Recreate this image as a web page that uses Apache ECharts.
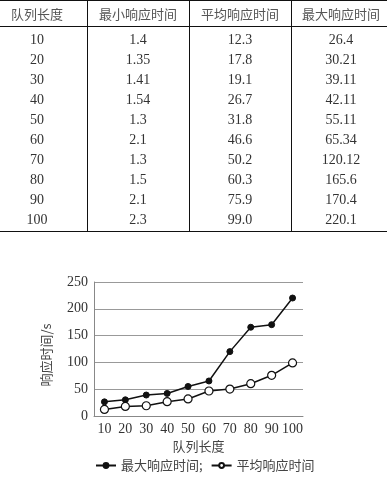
<!DOCTYPE html>
<html>
<head>
<meta charset="utf-8">
<script src="https://cdn.jsdelivr.net/npm/echarts@6/dist/echarts.min.js"></script>
<style>
html,body{margin:0;padding:0;background:#fff;}
#c{width:387px;height:483px;}
</style>
</head>
<body>
<div id="c"></div>
<script>
// ---- data ----
var headers = ['队列长度', '最小响应时间', '平均响应时间', '最大响应时间'];
var queueLen = ['10', '20', '30', '40', '50', '60', '70', '80', '90', '100'];
var minTime = ['1.4', '1.35', '1.41', '1.54', '1.3', '2.1', '1.3', '1.5', '2.1', '2.3'];
var avgTime = ['12.3', '17.8', '19.1', '26.7', '31.8', '46.6', '50.2', '60.3', '75.9', '99.0'];
var maxTime = ['26.4', '30.21', '39.11', '42.11', '55.11', '65.34', '120.12', '165.6', '170.4', '220.1'];
var yTicks = [0, 50, 100, 150, 200, 250];
var seriesNames = ['最大响应时间', '平均响应时间'];
var xName = '队列长度';
var yName = '响应时间/s';

// ---- table layout (styles/positions) ----
var colCenters = [37, 138, 240, 341];
var colLines = [87, 189, 291];
var headerY = 14, firstRowY = 40, rowStep = 20;
var topLine = 0.5, headLine = 26.5, bottomLine = 231.5;
var cnFont = '"Noto Sans CJK SC", sans-serif';
var numFont = '"Liberation Serif", "Times New Roman", serif';

var graphics = [];
function hline(y) {
  graphics.push({type: 'line', shape: {x1: 0, y1: y, x2: 387, y2: y}, style: {stroke: '#111', lineWidth: 1}});
}
hline(topLine); hline(headLine); hline(bottomLine);
colLines.forEach(function (x) {
  graphics.push({type: 'line', shape: {x1: x + 0.5, y1: 0, x2: x + 0.5, y2: bottomLine}, style: {stroke: '#111', lineWidth: 1}});
});
headers.forEach(function (h, i) {
  graphics.push({type: 'text', x: colCenters[i], y: headerY, style: {text: h, font: '13px ' + cnFont, fill: '#555', align: 'center', verticalAlign: 'middle'}});
});
var cols = [queueLen, minTime, avgTime, maxTime];
cols.forEach(function (col, ci) {
  col.forEach(function (v, ri) {
    graphics.push({type: 'text', x: colCenters[ci], y: firstRowY + ri * rowStep, style: {text: v, font: '14px ' + numFont, fill: '#333', align: 'center', verticalAlign: 'middle'}});
  });
});

var chart = echarts.init(document.getElementById('c'));
chart.setOption({
  animation: false,
  backgroundColor: '#fff',
  graphic: graphics,
  grid: {left: 94, right: 84, top: 282, bottom: 67, containLabel: false},
  legend: {
    data: seriesNames,
    left: 90, top: 454,
    itemWidth: 20, itemHeight: 6, itemGap: 8,
    formatter: function (n) { return n === seriesNames[0] ? n + ';' : n; },
    textStyle: {fontFamily: cnFont, fontSize: 13, color: '#444'}
  },
  xAxis: {
    type: 'category',
    data: queueLen,
    boundaryGap: true,
    name: xName,
    nameLocation: 'middle',
    nameGap: 24,
    nameTextStyle: {fontFamily: cnFont, fontSize: 13, color: '#444'},
    axisLine: {lineStyle: {color: '#888', width: 1}},
    axisTick: {inside: true, length: 3, lineStyle: {color: '#888'}},
    axisLabel: {fontFamily: numFont, fontSize: 14, color: '#333', margin: 6, interval: 0}
  },
  yAxis: {
    type: 'value',
    min: 0, max: 250, interval: 50,
    name: yName,
    nameLocation: 'middle',
    nameGap: 41,
    nameRotate: 90,
    nameTextStyle: {fontFamily: cnFont, fontSize: 13, color: '#444', padding: [0, 0, 0, -12]},
    axisLine: {show: true, lineStyle: {color: '#888', width: 1}},
    axisTick: {show: false},
    axisLabel: {fontFamily: numFont, fontSize: 14, color: '#333', margin: 6,
      formatter: function (v) { return yTicks.indexOf(v) >= 0 ? String(v) : ''; }},
    splitLine: {show: true, lineStyle: {color: '#999', width: 1}}
  },
  series: [
    {
      name: seriesNames[0], type: 'line', data: maxTime.map(Number),
      symbol: 'circle', symbolSize: 6,
      lineStyle: {color: '#111', width: 1.5},
      itemStyle: {color: '#111', borderColor: '#111', borderWidth: 1}
    },
    {
      name: seriesNames[1], type: 'line', data: avgTime.map(Number),
      symbol: 'circle', symbolSize: 8,
      lineStyle: {color: '#111', width: 1.5},
      itemStyle: {color: '#fff', borderColor: '#111', borderWidth: 1.2}
    }
  ]
});
</script>
</body>
</html>
